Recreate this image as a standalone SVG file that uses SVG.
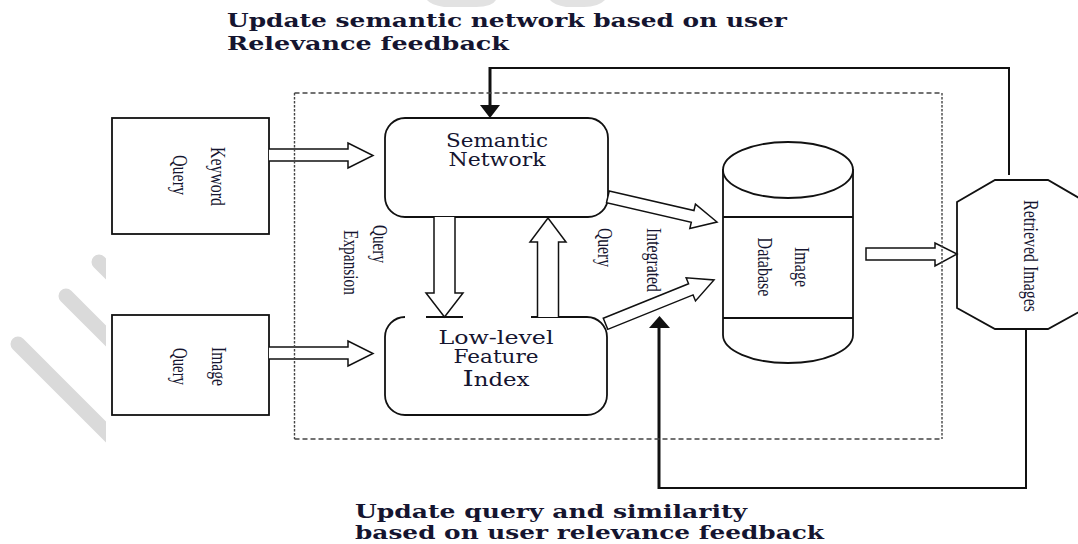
<svg xmlns="http://www.w3.org/2000/svg" width="1078" height="544" viewBox="0 0 1078 544">
<defs>
<style>
.box{fill:#fff;stroke:#111;stroke-width:1.8}
.nof{fill:none;stroke:#111;stroke-width:1.8}
.blk{fill:#fff;stroke:#111;stroke-width:1.5;stroke-linejoin:miter}
.fb{fill:none;stroke:#111;stroke-width:2}
.fbv{fill:none;stroke:#111;stroke-width:3}
.head{fill:#111;stroke:none}
.dh{stroke:#444;stroke-width:1.4;stroke-dasharray:5 3;fill:none}
.dv{stroke:#444;stroke-width:1.4;stroke-dasharray:2.5 1.5;fill:none}
.rot{font-family:"Liberation Serif","Times New Roman",serif;font-size:21px;fill:#151530}
.nt{font-family:"DejaVu Serif","Liberation Serif",serif;font-size:18.5px;fill:#151530;text-anchor:middle}
.tt{font-family:"DejaVu Serif","Liberation Serif",serif;font-size:19px;font-weight:bold;fill:#151530}
.wm{stroke:#dadada;stroke-width:15;stroke-linecap:round;fill:none}
.wmf{fill:#e2e2e2;stroke:none}
</style>
<clipPath id="wmclip"><rect x="0" y="0" width="106" height="544"/></clipPath>
</defs>
<rect width="1078" height="544" fill="#fff"/>
<g id="watermark">
<g clip-path="url(#wmclip)">
<line class="wm" x1="99" y1="262" x2="140" y2="303"/>
<line class="wm" x1="66" y1="296" x2="160" y2="390"/>
<line class="wm" x1="18" y1="344" x2="160" y2="486"/>
</g>
<path class="wmf" d="M427,0 L496,0 Q492,7 476,7 L444,7 Q431,5 427,0 Z"/>
<path class="wmf" d="M550,0 L605,0 Q598,7 584,7 L566,7 Q554,5 550,0 Z"/>
</g>
<g id="titles">
<text class="tt" x="227" y="27" textLength="560" lengthAdjust="spacingAndGlyphs">Update semantic network based on user</text>
<text class="tt" x="227" y="50" textLength="282" lengthAdjust="spacingAndGlyphs">Relevance feedback</text>
<text class="tt" x="355" y="518" textLength="392" lengthAdjust="spacingAndGlyphs">Update query and similarity</text>
<text class="tt" x="355" y="539" textLength="469" lengthAdjust="spacingAndGlyphs">based on user relevance feedback</text>
</g>
<g id="keyword-query">
<rect class="box" x="112" y="118" width="157" height="116"/>
<text class="rot" text-anchor="middle" textLength="59" lengthAdjust="spacingAndGlyphs" transform="translate(211,176.5) rotate(90)">Keyword</text>
<text class="rot" text-anchor="middle" textLength="40" lengthAdjust="spacingAndGlyphs" transform="translate(173,175) rotate(90)">Query</text>
</g>
<g id="image-query">
<rect class="box" x="112" y="315" width="157" height="100"/>
<text class="rot" text-anchor="middle" textLength="39" lengthAdjust="spacingAndGlyphs" transform="translate(212,366.5) rotate(90)">Image</text>
<text class="rot" text-anchor="middle" textLength="37" lengthAdjust="spacingAndGlyphs" transform="translate(173,366.5) rotate(90)">Query</text>
</g>
<g id="semantic-network">
<rect class="box" x="385" y="118" width="223" height="99" rx="20" ry="20"/>
<text class="nt" x="497" y="147" textLength="102" lengthAdjust="spacingAndGlyphs">Semantic</text>
<text class="nt" x="497" y="166" textLength="97" lengthAdjust="spacingAndGlyphs">Network</text>
</g>
<g id="low-level-feature-index">
<path class="box" d="M405,317 A20,20 0 0 0 385,337 L385,395 A20,20 0 0 0 405,415 L587,415 A20,20 0 0 0 607,395 L607,337 A20,20 0 0 0 587,317 L531,317" />
<text class="nt" x="496" y="344" textLength="115" lengthAdjust="spacingAndGlyphs">Low-level</text>
<text class="nt" x="496" y="363" textLength="85" lengthAdjust="spacingAndGlyphs">Feature</text>
<text class="nt" x="496" y="386" textLength="67" lengthAdjust="spacingAndGlyphs"><tspan font-size="23">I</tspan>ndex</text>
</g>
<g id="image-database">
<path class="box" d="M723,170 V335 A65,28 0 0 0 853,335 V170 Z"/>
<ellipse class="box" cx="788" cy="170" rx="65" ry="28"/>
<line class="nof" x1="723" y1="217" x2="853" y2="217"/>
<line class="nof" x1="723" y1="318" x2="853" y2="318"/>
<text class="rot" text-anchor="middle" textLength="40" lengthAdjust="spacingAndGlyphs" transform="translate(795,267) rotate(90)">Image</text>
<text class="rot" text-anchor="middle" textLength="59" lengthAdjust="spacingAndGlyphs" transform="translate(758,267) rotate(90)">Database</text>
</g>
<g id="retrieved-images">
<polygon class="box" points="957,202 995,180 1048,180 1086,202 1086,308 1048,329 995,329 957,308"/>
<text class="rot" text-anchor="middle" textLength="112" lengthAdjust="spacingAndGlyphs" transform="translate(1024,256) rotate(90)">Retrieved Images</text>
</g>
<g id="connectors">
<path class="blk" d="M269,149 H348 V143 L373,155.5 L348,168 V161 H269"/>
<path class="blk" d="M269,347 H348 V341 L373,353.5 L348,366 V359 H269"/>
<path class="blk" d="M434,217 V293 H426 L444.5,317 L463,293 H455 V217"/>
<line class="nof" x1="426" y1="317" x2="463" y2="317"/>
<path class="blk" d="M537.5,317 V242 H530 L548,218 L566,242 H558.5 V317"/>
<path class="blk" transform="translate(717,222) rotate(13)" d="M-112,-6 H-25 V-12.5 L0,0 L-25,12.5 V6 H-112 Z"/>
<path class="blk" transform="translate(714,280) rotate(-22)" d="M-117,-6 H-25 V-12.5 L0,0 L-25,12.5 V6 H-117 Z"/>
<polygon class="blk" points="866,248 935,248 935,243 957,254 935,266 935,260 866,260"/>
<polyline class="fb" points="1009,175 1009,68 490,68"/>
<line class="fbv" x1="490" y1="67" x2="490" y2="106"/>
<polygon class="head" points="480,105 500,105 490,118"/>
<polyline class="fb" points="1026,329 1026,488 659,488"/>
<line class="fbv" x1="659" y1="489" x2="659" y2="327"/>
<polygon class="head" points="649,328 670,328 659.5,316"/>
<text class="rot" textLength="38" lengthAdjust="spacingAndGlyphs" transform="translate(373,225) rotate(90)">Query</text>
<text class="rot" textLength="65" lengthAdjust="spacingAndGlyphs" transform="translate(344,230) rotate(90)">Expansion</text>
<text class="rot" textLength="39" lengthAdjust="spacingAndGlyphs" transform="translate(598,228) rotate(90)">Query</text>
<text class="rot" textLength="64" lengthAdjust="spacingAndGlyphs" transform="translate(647,228) rotate(90)">Integrated</text>
</g>
<g id="container">
<line class="dh" x1="294.5" y1="93" x2="942" y2="93"/>
<line class="dh" x1="294.5" y1="439" x2="942" y2="439"/>
<line class="dv" x1="294.5" y1="93" x2="294.5" y2="439"/>
<line class="dv" x1="942" y1="93" x2="942" y2="439"/>
</g>
</svg>
